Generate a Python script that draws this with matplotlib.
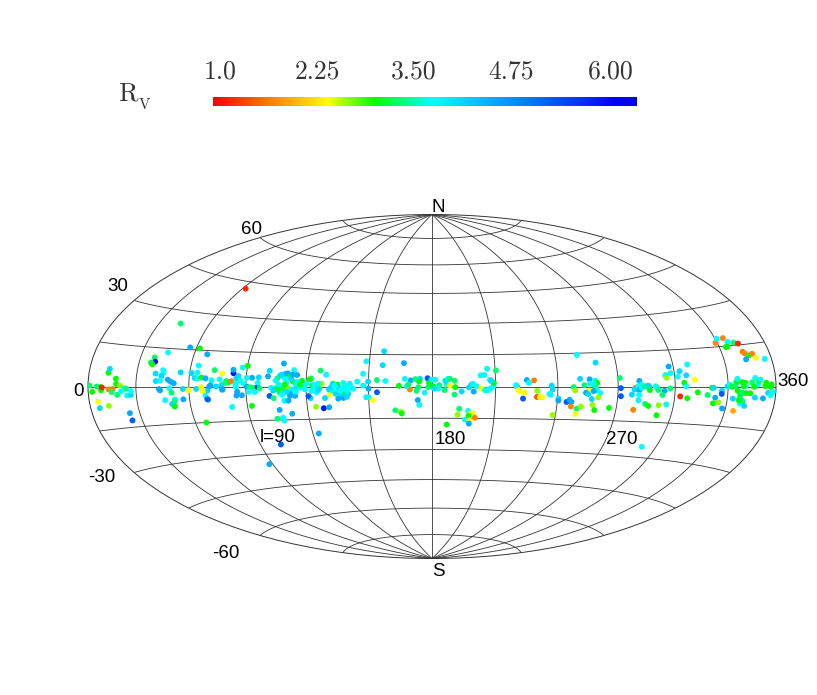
import numpy as np
import matplotlib
matplotlib.use('Agg')
import matplotlib.pyplot as plt
from matplotlib.colors import LinearSegmentedColormap

# galactic longitude, latitude (degrees) and R_V of each sightline
gal_l = [
    1.0, 2.7, 5.8, 8.5, 8, 9, 12.6, 13, 17.7, 18,
    20.4, 13.3, 15.8, 18.5, 21, 15.2, 23, 24, 24.5, 26.8,
    27, 5.8, 12.2, 6, 24, 24, 38.3, 39.3, 37, 38,
    45, 45.5, 41, 44.5, 41.6, 44, 48.3, 50, 51.7, 43.4,
    44, 49.3, 50.4, 46.4, 52, 51.5, 50, 51.2, 56.6, 56.8,
    55, 59.8, 66, 61, 64.2, 64.2, 63, 64.5, 66.7, 64,
    56.4, 62, 67.2, 73.2, 77.4, 83.3, 83, 90, 87.6, 72.2,
    68.8, 71.6, 74.6, 77.5, 78, 70, 70, 76.4, 79.8, 81,
    82.4, 79.4, 85, 86, 87, 84.7, 85, 85.5, 85, 87.8,
    90.3, 89, 90.5, 92, 94, 96, 97, 93, 96, 96.4,
    94.5, 91.5, 92.3, 82, 101.6, 101, 108.2, 113.7, 110.8, 109.5,
    107, 115.4, 112, 105.7, 109.5, 113.5, 117, 118, 115.7, 102.8,
    105.3, 107, 109, 111, 108.5, 113, 115.3, 117, 118, 101.8,
    103.8, 109, 106, 111, 114.5, 112, 114.7, 104, 107, 107.3,
    112, 123, 101, 88, 62, 43, 45, 66.7, 67.5, 68.8,
    69.6, 71, 77.7, 126.7, 122.4, 121.7, 129.6, 118, 120.3, 123,
    124, 125, 127.5, 126.5, 125, 122, 121, 129, 131.5, 132.3,
    133, 135.2, 135.5, 136.3, 137.6, 139, 141, 138, 142.7, 137,
    135.4, 138, 139.5, 140.3, 140.8, 144.6, 147.5, 147.3, 149.8, 150,
    154, 154, 150, 148.8, 152, 124.3, 128, 130.7, 148.5, 156.7,
    156.5, 166.6, 158, 164.4, 167.2, 170, 169.6, 168, 168.8, 172.2,
    173.5, 174.3, 174, 173.6, 172.7, 176.6, 177.9, 178.6, 179.8, 181.6,
    178.2, 180.5, 183.4, 183, 181, 186, 186.8, 186.3, 187.6, 188.4,
    188.4, 190.7, 191, 190.6, 194, 197.5, 198.6, 199.4, 199.7, 201,
    203.3, 205, 206.2, 207.6, 209, 209.3, 207.4, 208, 203, 204.8,
    206.2, 210.4, 173.3, 174, 162.5, 165, 165.5, 193, 192.3, 187.2,
    197.3, 198.2, 199.6, 200.7, 196, 197.6, 198.2, 198, 220.2, 219.8,
    225, 226, 228.5, 221, 221.5, 224, 223.3, 230, 230, 231.4,
    232.7, 237, 237.5, 236, 236.6, 240.5, 240.5, 238.6, 244.6, 246,
    247, 247, 250, 252, 250, 257.7, 259, 266.3, 247.7, 248.5,
    251, 253, 255.7, 258.5, 259.4, 257.8, 256, 258.7, 259.2, 261,
    255.5, 253.9, 255, 257.7, 257, 260.2, 259.7, 251, 271, 271.4,
    271.6, 279, 279.8, 281, 278.4, 277.2, 282, 280.5, 281, 282.2,
    281, 280.9, 279, 284.7, 286.5, 292, 284.2, 286, 286.5, 285.5,
    290.3, 289.5, 291, 294.3, 293.3, 297.4, 292, 296, 292.1, 297.5,
    295, 298, 295.6, 303, 301.7, 306.4, 308, 305, 306, 311,
    303, 307, 312.6, 318.3, 320.6, 321.6, 322.8, 322, 325, 326.4,
    326.4, 328, 335, 329.7, 331, 332.3, 335, 335, 335.8, 334.3,
    335.8, 333.3, 337.5, 338.5, 338.5, 340.6, 340.6, 339.5, 344.7, 346.8,
    348.3, 349.3, 350, 345.8, 341, 343.7, 338, 338, 339.5, 341,
    337, 346.8, 352, 355, 358, 356.8, 353, 353.7, 357.2, 356.5,
    329, 331, 335, 336.6, 335, 334, 340, 342.5, 343, 344,
    346, 348.5, 350, 343.5, 355.5,
    105, 106.5, 110.3, 109.5, 112.5, 107.8, 113.2, 112, 110.3, 107,
    105.3, 108.2, 103.7, 114.8, 117,
    133, 134.3, 135.9, 138.6, 139.7, 141.3, 137.8, 136.5, 133.8, 131,
    123.7, 125.8, 125.8, 122.6, 119.4,
]
gal_b = [
    0.3, -1.8, 0, -1.3, -0.2, -0.3, 4.8, 6.2, 2.8, 0.9,
    0.3, -1, -0.9, -3, -1.8, -2, -0.7, -0.8, -3.3, -3.1,
    -1.7, -5.2, -6.8, -7.4, -9.8, -12.5, 11.2, 9.6, 9.2, 8.5,
    6.4, 5.5, 5, 4.1, 2.1, 2.3, 2.7, 1.9, 1.3, -1,
    -1.5, -0.7, -2.5, -5.4, -5.2, -6, -7, -8, -5.2, -1,
    5.7, -1.5, -15, 5.5, 8.6, 5.7, 3.5, 3.3, 3.7, -1,
    15.9, 15.7, 13.4, 6.9, 5.5, 5.7, 7.2, 9, 8.2, 2.6,
    3.4, 0.5, 0, 0.6, -1.3, -1.7, -5.5, 3, 2.3, 1.8,
    2.3, 1.6, 3.5, 4.5, 2.6, 1.1, -0.3, -2.3, -3.9, -3.8,
    3.8, 1.1, -0.1, -0.3, -0.6, -0.3, -0.8, 3.8, 1.6, 4,
    -2.4, -2.3, -8.5, -8.8, 7, 4.5, 10.3, 7.4, 5.9, 5.6,
    4.9, 5.2, 4.5, 3.5, 3.5, 2.3, 1.9, 2.6, 2, -0.6,
    -0.6, -1.7, -2, -0.6, -0.6, -1.3, -0.6, -0.6, 0.1, -4.2,
    -5.2, -6.4, -10.5, -6.4, -4.2, -4.2, -2.4, -14.4, -14, -15.3,
    -12.3, -21.6, -26, -34.5, 42, 25, 13.4, -0.3, -2, -3.9,
    -5.3, 0, -1.3, 7.3, 3.7, 3.2, 5.4, 0, 1.3, 0.4,
    0.8, -0.6, 1.3, -1, -2.7, -5.3, -4.4, -5.3, -3.7, -0.1,
    1.3, 0.9, -1.3, -2.7, -2, -3, 1.3, 1.6, -1, -4.1,
    -5.6, -5.3, -4.8, -3.4, -0.6, 2.3, 0.4, 5.9, 2.3, -1,
    3, -2.7, -5, -5, -6.4, -9.3, -10, -9.6, 11.8, 16.6,
    10, 11, 2.6, 0.3, 3.6, 2.9, -1.4, 0.1, 0.9, 3.5,
    2.7, 3.6, 2.4, -0.3, -2, -2.9, 3.9, 1.6, 3.2, 3.2,
    -0.3, 0.1, 0.6, -0.9, -1, -1.7, 0.9, 2.7, 3.6, 3.6,
    0.4, 2.7, -0.3, -3.8, -2.3, -0.4, 0.9, 1.2, -2.4, 0.1,
    -1, -1.7, -1.7, -1, 0.1, 1.6, 3.1, 2.6, 5.2, 5.4,
    8.3, 7.5, -6.4, -8.7, -11.2, -11.8, -12.7, -10.5, -13.3, -18,
    -11.5, -13, -12.6, -14.7, -15.6, -13.8, -16, -17.5, 0.1, 0.6,
    3, 1.7, 2.8, -1.6, -2.3, -2.8, -5.6, -2, -4.8, -4.8,
    -5, 0.4, -1.4, -3.4, -3.8, -5.5, -6.4, -13, -7, -6,
    -7, -9, -10, -9, -12.4, -8.2, -10.5, -9.4, -0.3, -1.8,
    3.4, 0.6, 3.2, 2.6, 1.6, 0.8, 1.2, -0.6, -1.5, -2.8,
    -1.8, -2.8, -3.4, -2, -5.6, -4.8, 10.6, 14.2, 3.7, -0.7,
    -4.2, -0.5, -0.9, 2.4, -1.3, -3.5, 0.8, 0.1, -1.5, -0.6,
    -3.6, -5.9, -10, -7.4, -8.2, -25.5, 0.1, 0.1, -1.5, 0.4,
    -0.6, 0.1, -1.5, -1.8, -3.5, -0.8, -7.8, -7.4, -12, 8.2,
    4.7, 5.5, 3.6, 6.2, 4, 4.5, 8.8, 1.5, 0, 2.7,
    -4, -4.7, -2.3, -3.3, -0.5, -0.5, -4.3, -6.5, -6, -1.6,
    -2.8, -8.3, -9, 0.1, 0.7, -0.1, 1.3, 1.6, 2.8, 0.1,
    -1.6, -4.5, -3.3, -2.2, 1.6, 1.3, 0.3, 0.1, 1.5, 3,
    0.7, 2, 2.4, -0.1, -2.4, -2.4, -4.5, -6.2, -5.4, -7,
    -5, -3.9, -4.1, -2.2, -1.8, -3, 0.1, 1.3, 0.7, -0.1,
    16.5, 18, 18, 16.5, 14.7, 14.7, 16, 15.5, 12.5, 11.8,
    11, 11.5, 10, 9.7, 9.4,
    2.6, 0.9, 1.6, 0.9, 3.5, 5.3, 5.3, -3.2, -2.4, -2.8,
    -1.3, -3.5, -1.8, 1.2, 0.9,
    -2, -3.4, -0.6, 0.1, -2, 0.4, -1, -2, 0.4, -1.3,
    -0.6, 1.3, -1.6, -2, -1.3,
]
rv = [
    3.2, 2.9, 3.2, 2.9, 2.9, 1.2, 2.9, 3.9, 2.9, 2.9,
    2.6, 1.7, 1.7, 3.2, 3.6, 3.2, 3.6, 3.2, 3.6, 3.9,
    3.6, 2.35, 2.6, 3.9, 4.3, 5.0, 3.2, 5.6, 3.2, 2.9,
    3.6, 3.6, 3.9, 3.9, 3.9, 3.6, 4.3, 4.3, 4.3, 4.3,
    4.3, 3.6, 3.2, 3.6, 3.6, 3.2, 3.9, 2.9, 4.3, 3.9,
    3.9, 2.35, 2.9, 3.9, 3.6, 3.6, 3.9, 3.6, 2.9, 3.9,
    4.3, 2.9, 4.3, 3.2, 2.35, 5.6, 4.3, 2.9, 3.6, 3.6,
    4.3, 4.3, 3.9, 3.9, 4.3, 3.9, 4.3, 3.6, 3.2, 2.9,
    1.7, 3.2, 3.9, 3.9, 3.6, 3.6, 3.6, 4.3, 4.3, 4.3,
    3.6, 3.6, 4.3, 3.2, 3.2, 5.6, 3.2, 4.3, 3.6, 3.9,
    3.6, 3.6, 2.9, 3.6, 3.9, 4.3, 4.3, 3.6, 4.3, 4.3,
    3.9, 4.3, 2.9, 3.2, 3.6, 2.9, 1.7, 2.9, 3.6, 3.6,
    3.6, 2.9, 2.9, 2.6, 3.2, 3.6, 3.9, 3.6, 3.2, 5.0,
    3.2, 3.6, 4.3, 4.3, 4.3, 4.3, 3.6, 3.2, 3.6, 3.6,
    4.3, 4.3, 5.0, 4.3, 1.2, 3.2, 3.6, 2.35, 2.35, 3.6,
    5.0, 4.3, 4.3, 3.2, 3.2, 2.9, 3.6, 3.6, 3.6, 2.9,
    3.6, 3.2, 2.6, 3.2, 3.6, 3.9, 5.0, 3.9, 2.35, 3.9,
    3.9, 2.9, 3.6, 3.9, 3.6, 2.9, 3.6, 3.6, 3.6, 3.9,
    4.3, 4.3, 3.9, 3.9, 3.6, 3.6, 3.6, 3.6, 3.9, 4.3,
    3.2, 5.0, 3.6, 3.6, 2.35, 2.6, 5.6, 4.3, 3.6, 3.9,
    3.9, 4.3, 3.6, 2.9, 3.6, 4.3, 1.7, 3.6, 3.2, 3.2,
    3.6, 3.9, 2.9, 3.2, 3.2, 3.6, 5.0, 2.9, 3.6, 3.6,
    3.2, 2.9, 3.2, 3.6, 3.9, 3.2, 3.6, 3.9, 3.6, 3.2,
    2.35, 3.2, 2.9, 3.2, 3.9, 3.9, 3.9, 3.6, 4.3, 3.6,
    2.35, 3.6, 3.6, 3.6, 3.6, 2.9, 3.6, 3.9, 3.6, 3.6,
    3.6, 3.2, 4.3, 3.6, 3.2, 2.6, 2.9, 3.2, 2.6, 2.9,
    3.6, 2.35, 2.35, 1.7, 3.6, 2.9, 2.35, 4.3, 4.3, 3.6,
    4.3, 3.6, 1.7, 2.35, 2.35, 2.35, 5.0, 2.6, 1.4, 2.35,
    2.35, 3.9, 3.9, 3.6, 3.6, 3.9, 4.3, 2.6, 5.0, 4.3,
    4.3, 1.7, 3.2, 2.6, 2.35, 2.6, 2.9, 2.9, 3.2, 2.6,
    3.9, 3.2, 4.3, 3.6, 2.9, 3.6, 3.6, 3.2, 3.6, 3.6,
    2.35, 4.3, 3.9, 4.3, 3.9, 2.6, 3.9, 3.6, 3.2, 5.0,
    5.0, 1.7, 4.3, 4.3, 3.9, 3.9, 3.6, 3.6, 4.3, 3.6,
    3.6, 3.6, 1.7, 3.2, 2.9, 3.6, 3.2, 2.9, 2.9, 3.9,
    3.9, 3.6, 3.2, 4.3, 3.2, 3.2, 2.6, 3.6, 2.9, 4.3,
    3.6, 3.6, 2.6, 3.9, 3.6, 3.9, 3.6, 2.9, 3.6, 2.35,
    1.2, 2.9, 2.9, 3.2, 2.9, 3.9, 4.3, 2.9, 2.6, 3.9,
    5.0, 4.3, 1.9, 3.9, 3.6, 2.9, 3.6, 2.9, 3.6, 3.2,
    2.9, 3.9, 2.9, 3.2, 2.9, 2.9, 3.6, 2.9, 3.2, 3.6,
    3.6, 2.9, 3.6, 2.9, 2.9, 2.9, 3.2, 3.6, 3.2, 3.9,
    2.9, 3.9, 4.3, 3.9, 3.6, 3.6, 2.9, 2.9, 2.9, 2.9,
    1.7, 3.6, 1.7, 3.6, 2.9, 2.9, 3.2, 1.2, 1.7, 1.7,
    2.9, 1.7, 2.35, 4.3, 3.6,
    3.6, 3.6, 3.6, 2.9, 3.9, 3.9, 4.3, 4.3, 3.9, 3.2,
    2.9, 3.6, 3.9, 3.6, 2.9,
    3.6, 3.9, 3.9, 3.6, 3.6, 3.6, 3.6, 3.6, 3.6, 3.9,
    3.6, 3.6, 3.9, 3.6, 3.6,
]

rv_min, rv_max = 1.0, 6.0
bar_labels = ['1.0', '2.25', '3.50', '4.75', '6.00']
bar_label_x = [220, 317, 414, 511, 611]

lat_labels = ['60', '30', '0', '-30', '-60']
lat_label_xy = [(251, 230), (118, 287), (79, 392), (102, 477), (226, 554)]
lon_labels = ['l=90', '180', '270', '360']
lon_label_xy = [(278, 438), (450, 439), (622, 439), (793, 382)]

W, H = 817, 695

# red-yellow-green-cyan-blue, with the stops
rv_cmap = LinearSegmentedColormap.from_list('rv', [
    (0.0, '#ff0000'), (0.27, '#ffff00'), (0.38, '#00ff00'),
    (0.52, '#00ffff'), (0.95, '#0000ff'), (1.0, '#0000ff')])


def px_text(x, y, s, **kw):
    # text placed in figure pixels, origin top left
    fig.text(x / W, 1 - y / H, s, ha='center', va='center', **kw)


plt.rcParams['axes.linewidth'] = 0.7

fig = plt.figure(figsize=(W / 100, H / 100), dpi=100)

ax = fig.add_axes([88 / W, (H - 559) / H, 688 / W, 345 / H], projection='hammer')
ax.set_longitude_grid(30)
ax.set_latitude_grid(15)
ax.set_longitude_grid_ends(90)
ax.grid(True, color='#333333', linewidth=0.6)
ax.set_xticklabels([])
ax.set_yticklabels([])
ax.spines['geo'].set_edgecolor('#333333')

# l runs left to right with 180 in the middle
ax.scatter(np.radians(np.array(gal_l) - 180), np.radians(gal_b), c=rv, cmap=rv_cmap,
           vmin=rv_min, vmax=rv_max, s=18, linewidths=0, zorder=3)

sans = dict(family='Liberation Sans', fontsize=13.5, color='black')
px_text(438, 207, 'N', **sans)
px_text(438, 572, 'S', **sans)
for s, (x, y) in zip(lat_labels + lon_labels, lat_label_xy + lon_label_xy):
    px_text(x, y, s, **sans)

# colour bar
cax = fig.add_axes([213 / W, (H - 106) / H, 424 / W, 9 / H])
cax.imshow(np.linspace(rv_min, rv_max, 256)[None, :], aspect='auto', cmap=rv_cmap,
           vmin=rv_min, vmax=rv_max)
cax.axis('off')

for s, x in zip(bar_labels, bar_label_x):
    px_text(x, 72, s, family='cmr10', fontsize=18.5, color='#333333')
px_text(128, 94, 'R', family='cmr10', fontsize=19, color='#333333')
px_text(144, 105, 'V', family='cmr10', fontsize=11, color='#333333')

fig.savefig('out.png', dpi=100)
plt.close(fig)
